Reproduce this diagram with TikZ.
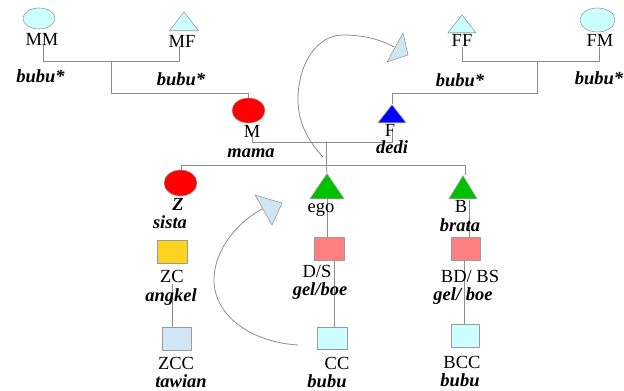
\documentclass[tikz,border=0pt]{standalone}
\usepackage{fontspec}
\setmainfont{Liberation Serif}
\usetikzlibrary{shapes.geometric}
\definecolor{lcyan}{HTML}{CCFFFF}
\definecolor{lblue}{HTML}{CFE7F5}
\definecolor{kred}{HTML}{FF0000}
\definecolor{kblue}{HTML}{0000FF}
\definecolor{kgreen}{HTML}{00C000}
\definecolor{kyellow}{HTML}{FFD320}
\definecolor{salmon}{HTML}{FF8080}
\definecolor{linegray}{HTML}{8C8C8C}
\definecolor{edge}{HTML}{9A9A9A}
\begin{document}
\begin{tikzpicture}[x=1pt,y=-1pt,
  lbl/.style={anchor=base, font=\fontsize{18.5}{20}\selectfont, inner sep=0pt},
  kin/.style={anchor=base, font=\fontsize{18.5}{20}\selectfont\bfseries\itshape, inner sep=0pt},
  ln/.style={draw=linegray, line width=0.8pt},
  ell/.style={ellipse, draw=edge, line width=0.6pt, inner sep=0pt},
  tri/.style={isosceles triangle, isosceles triangle stretches, shape border rotate=90,
     draw=edge, line width=0.6pt, inner sep=0pt, anchor=apex},
  box/.style={rectangle, draw=edge, line width=0.6pt, inner sep=0pt},
  head/.style={fill=lblue, draw=edge, line width=0.6pt}]
\useasboundingbox (0,0) rectangle (624,391);

% ---- connector junctions
\coordinate (mmS) at (43,45);
\coordinate (mfS) at (179,47);
\coordinate (mgp) at (111,61);
\coordinate (mTop) at (248,98);
\coordinate (mS) at (252,132);
\coordinate (fS) at (392,132);
\coordinate (cpl) at (326,142);
\coordinate (sib) at (326,165);
\coordinate (zT) at (181,170);
\coordinate (egoT) at (327,173);
\coordinate (bT) at (465,175);
\coordinate (fTop) at (392,104);
\coordinate (fgp) at (537,61);
\coordinate (ffS) at (462,47);
\coordinate (fmS) at (599,47);
\coordinate (egoB) at (327,199);
\coordinate (dsT) at (327,237);
\coordinate (bB) at (469,200);
\coordinate (bdT) at (469,237);
\coordinate (zcB) at (172,284);
\coordinate (zccT) at (172,327);
\coordinate (dsB) at (334,261);
\coordinate (ccT) at (334,327);
\coordinate (bdB) at (464,261);
\coordinate (bccT) at (464,324);

% ---- connectors
\draw[ln] (mmS) |- (mfS |- mgp) -- (mfS);
\draw[ln] (mgp) |- (mTop |- 0,93) -- (mTop);
\draw[ln] (mS) |- (fS |- cpl) -- (fS);
\draw[ln] (fTop) |- (fgp |- 0,93) -- (fgp);
\draw[ln] (ffS) |- (fmS |- fgp) -- (fmS);
\draw[ln] (cpl) -- (sib);
\draw[ln] (zT |- sib) -- (bT |- sib);
\draw[ln] (zT |- sib) -- (zT);
\draw[ln] (sib) -- (egoT);
\draw[ln] (bT |- sib) -- (bT);
\draw[ln] (egoB) -- (dsT);
\draw[ln] (bB) -- (bdT);
\draw[ln] (zcB) -- (zccT);
\draw[ln] (dsB) -- (ccT);
\draw[ln] (bdB) -- (bccT);

% ---- curved arrows
\coordinate (a1s) at (323,157);
\coordinate (a1e) at (394,47);
\draw[ln] (a1s) .. controls (307,140) and (298,121) .. (298,100)
   .. controls (298,62) and (318,35) .. (343,35)
   .. controls (362,35) and (380,39) .. (a1e);
\draw[head] (403,33) -- (408,55) -- (387,62) -- cycle;
\coordinate (a2s) at (298,345);
\coordinate (a2e) at (264,208);
\draw[ln] (a2s) .. controls (250,342) and (214,315) .. (214,280)
   .. controls (214,248) and (240,220) .. (a2e);
\draw[head] (255,195) -- (282,203) -- (272,225) -- cycle;

% ---- symbols
\node[ell, fill=lcyan, minimum width=32pt, minimum height=21pt] (MM) at (39,18.5) {};
\node[tri, fill=lcyan, minimum width=29pt, minimum height=19pt] (MF) at (184,11) {};
\node[tri, fill=lcyan, minimum width=28pt, minimum height=18pt] (FF) at (462,14) {};
\node[ell, fill=lcyan, minimum width=35pt, minimum height=24pt] (FM) at (597.5,20) {};
\node[ell, fill=kred, minimum width=33pt, minimum height=25pt] (M) at (248.5,110.5) {};
\node[tri, fill=kblue, minimum width=28pt, minimum height=18pt] (F) at (392,104) {};
\node[ell, fill=kred, minimum width=33pt, minimum height=26pt] (Z) at (180.5,183) {};
\node[tri, fill=kgreen, minimum width=34pt, minimum height=25pt] (ego) at (327,173) {};
\node[tri, fill=kgreen, minimum width=28pt, minimum height=23pt] (B) at (463,175) {};
\node[box, fill=kyellow, minimum width=30pt, minimum height=23pt] (ZC) at (172,251.5) {};
\node[box, fill=salmon, minimum width=30pt, minimum height=23pt] (DS) at (329,248.5) {};
\node[box, fill=salmon, minimum width=29pt, minimum height=23pt] (BD) at (465.5,248.5) {};
\node[box, fill=lblue, minimum width=29pt, minimum height=23pt] (ZCC) at (176.5,338.5) {};
\node[box, fill=lcyan, minimum width=30pt, minimum height=22pt] (CC) at (332,338) {};
\node[box, fill=lcyan, minimum width=28pt, minimum height=23pt] (BCC) at (465,335.5) {};

% ---- labels
\node[lbl] (tMM) at (42,45) {MM};
\node[lbl] (tMF) at (182,47) {MF};
\node[lbl] (tFF) at (462,46) {FF};
\node[lbl] (tFM) at (600,46) {FM};
\node[kin] (k1) at (40.5,82) {bubu*};
\node[kin] (k2) at (181,85) {bubu*};
\node[kin] (k3) at (460,86) {bubu*};
\node[kin] (k4) at (599,84) {bubu*};
\node[lbl] (tM) at (252,137) {M};
\node[kin] (kM) at (251,157) {mama};
\node[lbl] (tF) at (390,136) {F};
\node[kin] (kF) at (392,153) {dedi};
\node[kin] (tZ) at (178,210) {Z};
\node[kin] (kZ) at (170,228) {sista};
\node[lbl] (tego) at (321,212) {ego};
\node[lbl] (tB) at (461,212) {B};
\node[kin] (kB) at (460,231) {brata};
\node[lbl] (tZC) at (172,282) {ZC};
\node[kin] (kZC) at (171,301) {angkel};
\node[lbl] (tDS) at (317,277) {D/S};
\node[kin] (kDS) at (320,295) {gel/boe};
\node[lbl] (tBD) at (470,282) {BD/ BS};
\node[kin] (kBD) at (463,300) {gel/ boe};
\node[lbl] (tZCC) at (176,369) {ZCC};
\node[kin] (kZCC) at (181,387) {tawian};
\node[lbl] (tCC) at (337,369) {CC};
\node[kin] (kCC) at (327,387) {bubu};
\node[lbl] (tBCC) at (462,368) {BCC};
\node[kin] (kBCC) at (460,386) {bubu};
\end{tikzpicture}
\end{document}
